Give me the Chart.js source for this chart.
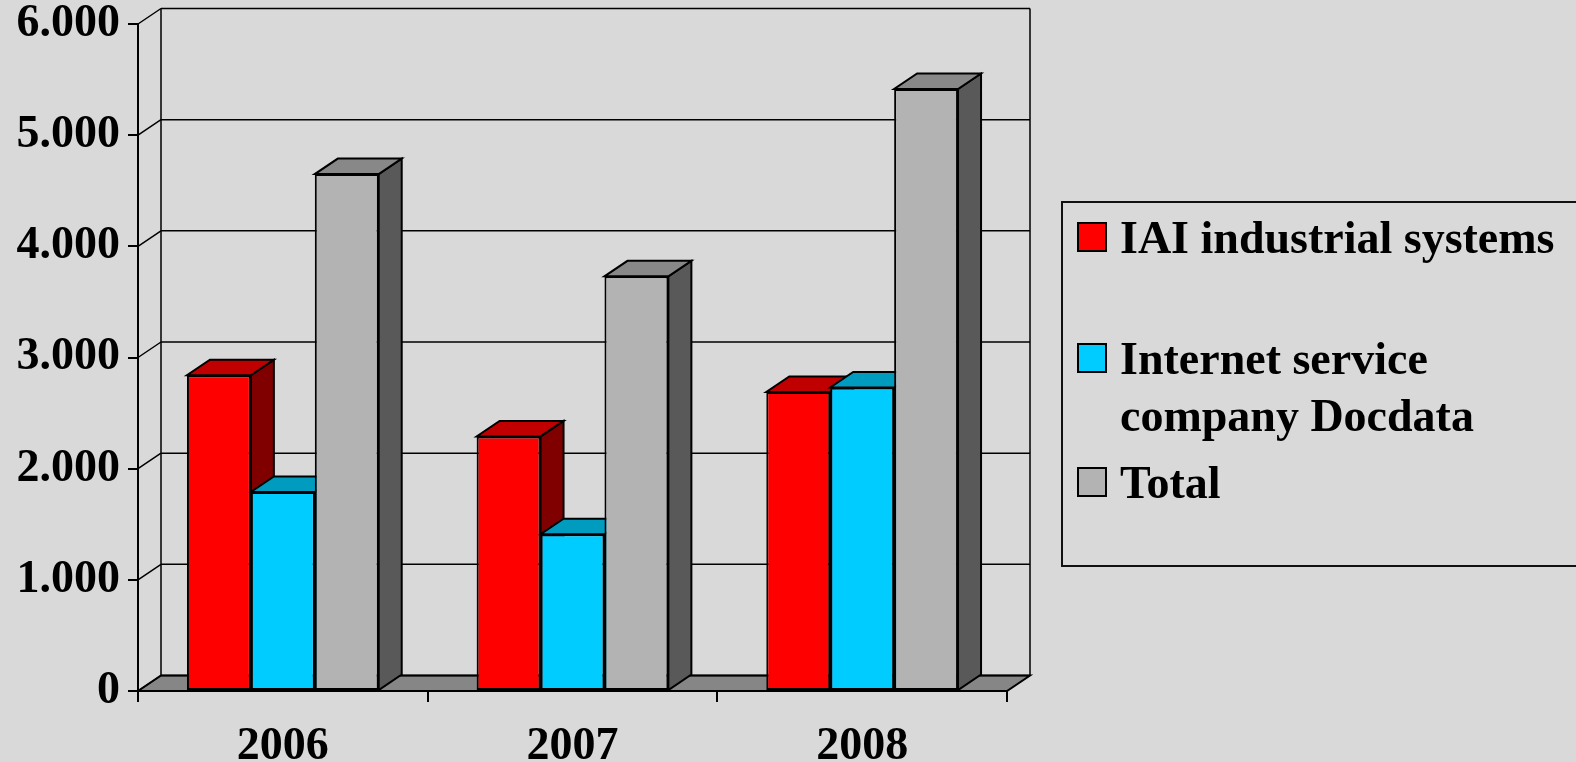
<!DOCTYPE html>
<html>
<head>
<meta charset="utf-8">
<script src="https://cdn.jsdelivr.net/npm/chart.js@4/dist/chart.umd.min.js"></script>
<style>
  body { margin: 0; background: #d9d9d9; overflow: hidden; }
  #wrap { position: relative; width: 1576px; height: 762px; }
  #legend {
    position: absolute; left: 1061px; top: 201px; width: 600px; height: 366px;
    border: 2px solid #111; box-sizing: border-box;
    font: bold 46px "Liberation Serif", "Times New Roman", serif; color: #000;
  }
  .item { position: absolute; left: 57px; line-height: 57px; width: 450px; }
  .swatch {
    position: absolute; left: -43px; top: 13px; width: 30px; height: 30px;
    border: 2px solid #000; box-sizing: border-box;
  }
</style>
</head>
<body>
<div id="wrap">
  <canvas id="chart" width="1576" height="762"></canvas>
  <div id="legend"></div>
</div>
<script>
// === Data ===
const years = ['2006', '2007', '2008'];
const iaiValues = [2840, 2290, 2690];
const docdataValues = [1790, 1410, 2730];
const totalValues = [4650, 3730, 5415];
const yTicks = [0, 1000, 2000, 3000, 4000, 5000, 6000];

const seriesNames = ['IAI industrial systems', 'Internet service company Docdata', 'Total'];
const frontColors = ['#ff0000', '#00ccff', '#b3b3b3'];
const topColors = ['#c00000', '#009cc0', '#888888'];
const sideColors = ['#800000', '#007a99', '#595959'];

// depth of the fake 3d look
const dx = 23, dy = -15.5;

const fmt = v => String(v).replace(/\B(?=(\d{3})+(?!\d))/g, '.');

function poly(ctx, pts, fill) {
  ctx.beginPath();
  ctx.moveTo(pts[0][0], pts[0][1]);
  for (let i = 1; i < pts.length; i++) ctx.lineTo(pts[i][0], pts[i][1]);
  ctx.closePath();
  if (fill) { ctx.fillStyle = fill; ctx.fill(); }
  ctx.stroke();
}

// walls, floor and the side/top faces of every bar
const depthPlugin = {
  id: 'depth',
  beforeDatasetsDraw(chart) {
    const ctx = chart.ctx;
    const a = chart.chartArea;
    const y = chart.scales.y;
    ctx.save();
    ctx.strokeStyle = '#000';
    ctx.lineJoin = 'miter';

    // floor
    ctx.lineWidth = 2;
    poly(ctx, [[a.left, a.bottom], [a.right, a.bottom], [a.right + dx, a.bottom + dy], [a.left + dx, a.bottom + dy]], '#868686');

    // back wall and left wall lines
    ctx.lineWidth = 1.5;
    yTicks.forEach(v => {
      const py = y.getPixelForValue(v);
      ctx.beginPath();
      ctx.moveTo(a.left + dx, py + dy);
      ctx.lineTo(a.right + dx, py + dy);
      ctx.moveTo(a.left, py);
      ctx.lineTo(a.left + dx, py + dy);
      ctx.stroke();
    });
    ctx.beginPath();
    ctx.moveTo(a.left + dx, a.top + dy);
    ctx.lineTo(a.left + dx, a.bottom + dy);
    ctx.moveTo(a.right + dx, a.top + dy);
    ctx.lineTo(a.right + dx, a.bottom + dy);
    ctx.stroke();

    // bar sides and tops, left to right
    ctx.lineWidth = 2;
    years.forEach((_, i) => {
      chart.data.datasets.forEach((ds, d) => {
        const bar = chart.getDatasetMeta(d).data[i];
        const w = bar.width;
        const l = bar.x - w / 2, r = bar.x + w / 2;
        poly(ctx, [[r, bar.y], [r + dx, bar.y + dy], [r + dx, bar.base + dy], [r, bar.base]], sideColors[d]);
        poly(ctx, [[l, bar.y], [r, bar.y], [r + dx, bar.y + dy], [l + dx, bar.y + dy]], topColors[d]);
      });
    });
    ctx.restore();
  }
};

const values = [iaiValues, docdataValues, totalValues];
const tickFont = { family: '"Liberation Serif", "Times New Roman", serif', size: 46, weight: 'bold', lineHeight: 1 };

const chart = new Chart(document.getElementById('chart'), {
  type: 'bar',
  data: {
    labels: years,
    datasets: values.map((vals, d) => ({
      label: seriesNames[d],
      data: vals,
      backgroundColor: frontColors[d],
      borderColor: '#000',
      borderWidth: 2,
      borderSkipped: false,
      barPercentage: 1,
      categoryPercentage: 0.662
    }))
  },
  options: {
    responsive: false,
    animation: false,
    devicePixelRatio: 1,
    layout: { padding: { top: 24, right: 569, left: 0, bottom: 0 } },
    plugins: { legend: { display: false }, tooltip: { enabled: false } },
    scales: {
      y: {
        min: 0,
        max: 6000,
        afterFit: s => { s.width = 138; s.paddingTop = 0; s.paddingBottom = 0; },
        afterBuildTicks: s => { s.ticks = yTicks.map(v => ({ value: v })); },
        ticks: { font: tickFont, color: '#000', padding: 8, callback: v => fmt(v) },
        grid: { drawOnChartArea: false, tickLength: 10, color: '#000', lineWidth: 2 },
        border: { color: '#000', width: 2 }
      },
      x: {
        afterFit: s => { s.height = 71; s.paddingLeft = 0; s.paddingRight = 0; },
        ticks: { font: tickFont, color: '#000', padding: 22 },
        grid: { offset: true, drawOnChartArea: false, tickLength: 11, color: '#000', lineWidth: 2 },
        border: { color: '#000', width: 2 }
      }
    }
  },
  plugins: [depthPlugin]
});

// === Legend ===
const itemTops = [6, 127, 251];
const legend = document.getElementById('legend');
seriesNames.forEach((name, d) => {
  const item = document.createElement('div');
  item.className = 'item';
  item.style.top = itemTops[d] + 'px';
  item.innerHTML = '<span class="swatch" style="background:' + frontColors[d] + '"></span>' + name;
  legend.appendChild(item);
});
</script>
</body>
</html>
